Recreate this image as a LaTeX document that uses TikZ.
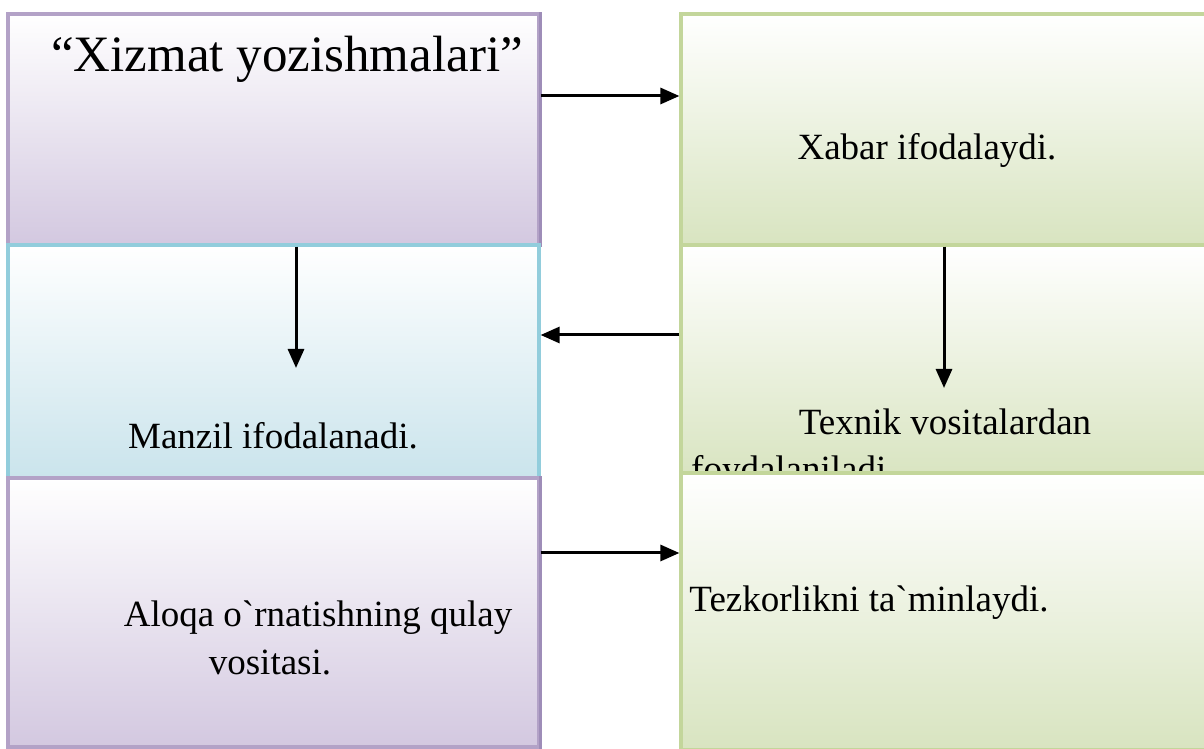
\documentclass[tikz,border=0pt]{standalone}
\usepackage{fontspec}
\newfontfamily\uzfont{Liberation Serif}
\usetikzlibrary{arrows.meta,calc}
\definecolor{LilacLine}{HTML}{B3A2C7}
\definecolor{LilacRim}{HTML}{9E8DB8}
\definecolor{LilacFill}{HTML}{D3C8E0}
\definecolor{SkyLine}{HTML}{92CDDC}
\definecolor{SkyFill}{HTML}{CAE4EC}
\definecolor{LeafLine}{HTML}{C3D69B}
\definecolor{LeafFill}{HTML}{D8E4C0}

\begin{document}
\begin{tikzpicture}[x=1pt,y=1pt,
  box/.style={draw,line width=3.2pt,inner sep=0pt,top color=white},
  lilacbox/.style={box,draw=LilacLine,bottom color=LilacFill},
  skybox/.style={box,draw=SkyLine,bottom color=SkyFill},
  leafbox/.style={box,draw=LeafLine,bottom color=LeafFill},
  rim/.style={line width=3.5pt,LilacRim},
  txt/.style={font=\uzfont\fontsize{37}{48}\selectfont,inner sep=0pt,anchor=base},
  arr/.style={line width=3pt,-{Triangle[length=19pt,width=16pt]}}]
\useasboundingbox (0,0) rectangle (1204,749);

% boxes, upper row first
\node[lilacbox,minimum width=531,minimum height=231] (zapros) at (273.5,619.5) {};
\node[leafbox,minimum width=533,minimum height=231] (xabar) at (947.5,619.5) {};
\draw[rim] (zapros.north east) -- (zapros.south east);
\node[skybox,minimum width=531,minimum height=233] (manzil) at (273.5,387.5) {};
\node[leafbox,minimum width=533,minimum height=233] (texnik) at (947.5,387.5) {};

\node[txt,font=\uzfont\fontsize{51}{60}\selectfont] (tzap) at (287,677) {“Xizmat yozishmalari”};
\node[txt] (txab) at (927,589) {Xabar ifodalaydi.};
\node[txt] (tman) at (273,300) {Manzil ifodalanadi.};
\node[txt] (ttex) at (945,314) {Texnik vositalardan};
\node[txt,anchor=base west] (tfoy) at (691,267) {foydalaniladi.};

% lower row covers the cut line
\node[lilacbox,minimum width=531,minimum height=269] (aloqa) at (273.5,136.5) {};
\node[leafbox,minimum width=533,minimum height=277] (tezkor) at (947.5,137.5) {};
\draw[rim] (aloqa.north east) -- (aloqa.south east);

\node[txt] (talo) at (318,122) {Aloqa o`rnatishning qulay};
\node[txt] (tvos) at (270,74) {vositasi.};
\node[txt] (ttez) at (869,137) {Tezkorlikni ta`minlaydi.};

\coordinate (downL) at (296,381);
\coordinate (downR) at (944,361);

\draw[arr] ([yshift=33.5]zapros.east) -- ([yshift=33.5]xabar.west);
\draw[arr] ([xshift=22.5]zapros.south) -- (downL);
\draw[arr] ([xshift=-3.5]xabar.south) -- (downR);
\draw[arr] ([yshift=26.5]texnik.west) -- ([yshift=26.5]manzil.east);
\draw[arr] ([yshift=59.5]aloqa.east) -- ([yshift=58.5]tezkor.west);

\end{tikzpicture}
\end{document}
